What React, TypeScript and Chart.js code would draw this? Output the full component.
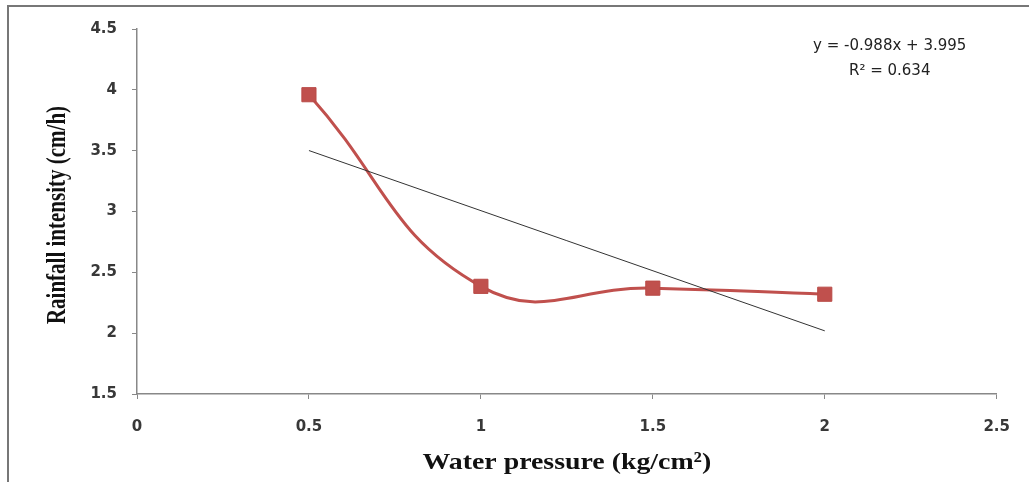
import React, { useEffect, useRef } from "react";
import { Chart, registerables } from "chart.js";

Chart.register(...registerables);

const pressure = [0.5, 1, 1.5, 2];
const intensity = [3.96, 2.385, 2.37, 2.32];
const trendX = [0.5, 2];
const trendY = [3.501, 2.019];
const xTicks = [0, 0.5, 1, 1.5, 2, 2.5];
const yTicks = [1.5, 2, 2.5, 3, 3.5, 4, 4.5];
const equationLines = ["y = -0.988x + 3.995", "R\u00b2 = 0.634"];
const xTitle = "Water pressure (kg/cm\u00b2)";
const yTitle = "Rainfall intensity (cm/h)";

const W = 1029;
const H = 482;

const textPlugin = {
  id: "texts",
  afterDraw(chart: any) {
    const { ctx, chartArea } = chart;
    ctx.save();
    ctx.font = "15px 'DejaVu Sans'";
    ctx.fillStyle = "#222";
    ctx.textAlign = "center";
    ctx.textBaseline = "middle";
    const cx = chartArea.right - 107;
    ctx.fillText(equationLines[0], cx, chartArea.top + 17);
    ctx.fillText(equationLines[1], cx, chartArea.top + 42);
    ctx.restore();

    ctx.save();
    ctx.font = "bold 24px 'Liberation Serif'";
    ctx.fillStyle = "#111";
    ctx.textAlign = "center";
    ctx.textBaseline = "alphabetic";
    ctx.translate((chartArea.left + chartArea.right) / 2, 469);
    ctx.scale(1.16, 1);
    ctx.fillText(xTitle, 0, 0);
    ctx.restore();

    ctx.save();
    ctx.font = "bold 21px 'Liberation Serif'";
    ctx.fillStyle = "#111";
    ctx.textAlign = "center";
    ctx.textBaseline = "alphabetic";
    ctx.translate(65, 215);
    ctx.scale(1.28, 1);
    ctx.rotate(-Math.PI / 2);
    ctx.fillText(yTitle, 0, 0);
    ctx.restore();
  },
};

export default function App() {
  const ref = useRef<HTMLCanvasElement>(null);
  useEffect(() => {
    if (!ref.current) return;
    const tickFont = { family: "DejaVu Sans", size: 15, weight: "bold" as const };
    const chart = new Chart(ref.current, {
      type: "scatter",
      data: {
        datasets: [
          {
            data: pressure.map((x, i) => ({ x, y: intensity[i] })),
            showLine: true,
            borderColor: "#C0504D",
            backgroundColor: "#C0504D",
            borderWidth: 3,
            tension: 0.45,
            pointStyle: "rect",
            pointRadius: 10,
            pointBorderWidth: 1,
            pointBorderColor: "#B94A47",
            pointBackgroundColor: "#C0504D",
            order: 2,
          },
          {
            data: trendX.map((x, i) => ({ x, y: trendY[i] })),
            showLine: true,
            borderColor: "#333",
            borderWidth: 1,
            pointRadius: 0,
            tension: 0,
            order: 1,
          },
        ],
      },
      options: {
        responsive: false,
        animation: false,
        layout: { padding: { left: 0, top: 29, right: 31, bottom: 0 } },
        plugins: { legend: { display: false }, tooltip: { enabled: false } },
        scales: {
          x: {
            type: "linear",
            min: 0,
            max: 2.5,
            afterBuildTicks: (s: any) => {
              s.ticks = xTicks.map((v) => ({ value: v }));
            },
            afterFit: (s: any) => {
              s.height = 88;
            },
            ticks: {
              font: tickFont,
              color: "#383838",
              padding: 19,
              maxRotation: 0,
              callback: (v: any) => String(v),
            },
            grid: { drawOnChartArea: false, tickLength: 5, color: "#888" },
            border: { color: "#888", width: 1.5 },
          },
          y: {
            type: "linear",
            min: 1.5,
            max: 4.5,
            afterBuildTicks: (s: any) => {
              s.ticks = yTicks.map((v) => ({ value: v }));
            },
            afterFit: (s: any) => {
              s.width = 137;
            },
            ticks: {
              font: tickFont,
              color: "#383838",
              padding: 15,
              callback: (v: any) => String(v),
            },
            grid: { drawOnChartArea: false, tickLength: 5, color: "#888" },
            border: { color: "#888", width: 1.5 },
          },
        },
      },
      plugins: [textPlugin],
    });
    return () => chart.destroy();
  }, []);

  return (
    <div
      style={{
        position: "fixed",
        left: 0,
        top: 0,
        width: W,
        height: H,
        overflow: "hidden",
        background: "#fff",
      }}
    >
      <div
        style={{
          position: "absolute",
          left: 7,
          top: 5,
          width: 1200,
          height: 800,
          borderLeft: "2px solid #777",
          borderTop: "2px solid #777",
        }}
      />
      <canvas
        ref={ref}
        width={W}
        height={H}
        style={{ position: "absolute", left: 0, top: 0, width: W, height: H }}
      />
    </div>
  );
}
